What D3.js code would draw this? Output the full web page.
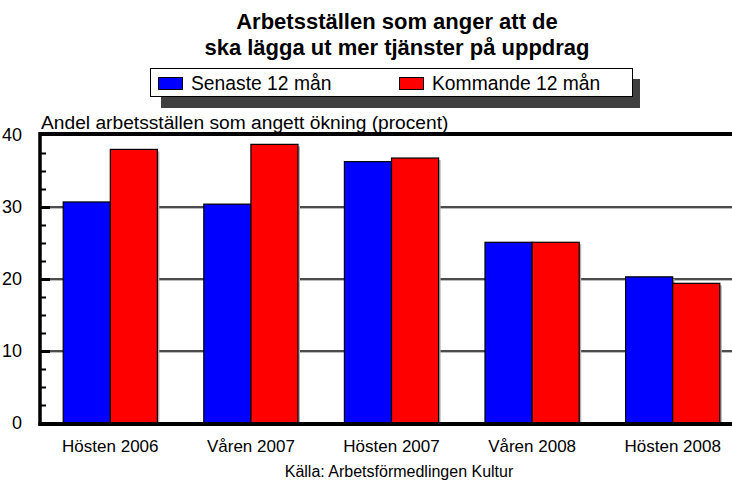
<!DOCTYPE html>
<html>
<head>
<meta charset="utf-8">
<script src="https://cdn.jsdelivr.net/npm/d3@7"></script>
<style>
  html, body { margin: 0; padding: 0; background: #fff; }
  svg { display: block; font-family: "Liberation Sans", Arial, sans-serif; }
</style>
</head>
<body>
<svg id="chart" width="732" height="480"></svg>
<script>
const categories = ["Hösten 2006", "Våren 2007", "Hösten 2007", "Våren 2008", "Hösten 2008"];
const seriesNames = ["Senaste 12 mån", "Kommande 12 mån"];
const senaste = [30.7, 30.4, 36.3, 25.1, 20.3];
const kommande = [38.0, 38.7, 36.8, 25.1, 19.4];
const majorTicks = [0, 10, 20, 30, 40];
const minorTicks = [2.5, 5, 7.5, 12.5, 15, 17.5, 22.5, 25, 27.5, 32.5, 35, 37.5];
const titleLines = ["Arbetsställen som anger att de", "ska lägga ut mer tjänster på uppdrag"];
const yTitle = "Andel arbetsställen som angett ökning (procent)";
const source = "Källa: Arbetsförmedlingen Kultur";
const colors = ["#0000ff", "#ff0000"];

(function () {
const svg = d3.select("#chart");
const W = 732;
const pLeft = 40, pTop = 135, pBottom = 423, pRight = 743;

const y = d3.scaleLinear().domain([0, 40]).range([pBottom, pTop]);
const x = d3.scaleBand().domain(categories).range([pLeft, pRight]).paddingInner(0.33).paddingOuter(0.165);
const xs = d3.scaleBand().domain(seriesNames).range([0, x.bandwidth()]);

const data = categories.map((c, i) => ({ cat: c, vals: [
  { s: seriesNames[0], v: senaste[i], c: colors[0] },
  { s: seriesNames[1], v: kommande[i], c: colors[1] }
]}));

// Title
svg.append("g").selectAll("text").data(titleLines).join("text")
  .attr("x", 397).attr("y", (d, i) => 28.5 + i * 26)
  .attr("text-anchor", "middle")
  .attr("font-weight", "bold").attr("font-size", 22)
  .attr("fill", "#000").text(d => d);

// Legend
const lg = svg.append("g");
lg.append("rect").attr("x", 161).attr("y", 79).attr("width", 479).attr("height", 29).attr("fill", "#404040");
lg.append("rect").attr("x", 150.5).attr("y", 68.5).attr("width", 482).attr("height", 28).attr("fill", "#fff").attr("stroke", "#000").attr("stroke-width", 1);
const legendX = [158, 399];
seriesNames.forEach((s, i) => {
  lg.append("rect").attr("x", legendX[i] + 0.5).attr("y", 77.5).attr("width", 24).attr("height", 12)
    .attr("fill", colors[i]).attr("stroke", "#000").attr("stroke-width", 1);
  lg.append("text").attr("x", legendX[i] + 33).attr("y", 90).attr("font-size", 19.3).attr("fill", "#000").text(s);
});

// Y title
svg.append("text").attr("x", 41).attr("y", 129).attr("font-size", 19.2).attr("fill", "#000").text(yTitle);

// Gridlines with subtle shadow
const grid = svg.append("g");
grid.selectAll("line.sh").data([10, 20, 30]).join("line")
  .attr("x1", pLeft).attr("x2", W).attr("y1", d => y(d) + 1.5).attr("y2", d => y(d) + 1.5)
  .attr("stroke", "#bbb").attr("stroke-width", 1);
grid.selectAll("line.g").data([10, 20, 30]).join("line")
  .attr("x1", pLeft).attr("x2", W).attr("y1", d => y(d)).attr("y2", d => y(d))
  .attr("stroke", "#111").attr("stroke-width", 1.6);

// Bars
const groups = svg.append("g").selectAll("g").data(data).join("g")
  .attr("transform", d => `translate(${x(d.cat)},0)`);
groups.selectAll("rect.shadow").data(d => d.vals).join("rect")
  .attr("x", d => xs(d.s) + 2).attr("y", d => y(d.v) + 2)
  .attr("width", xs.bandwidth()).attr("height", d => y(0) - y(d.v))
  .attr("fill", "#b0b0b0");
groups.selectAll("rect.bar").data(d => d.vals).join("rect")
  .attr("x", d => xs(d.s)).attr("y", d => y(d.v))
  .attr("width", xs.bandwidth()).attr("height", d => y(0) - y(d.v))
  .attr("fill", d => d.c).attr("stroke", "#000").attr("stroke-width", 1.2);

// Axes frame
svg.append("line").attr("x1", pLeft).attr("x2", W).attr("y1", pTop - 1).attr("y2", pTop - 1).attr("stroke", "#000").attr("stroke-width", 4);
svg.append("line").attr("x1", pLeft - 1.5).attr("x2", W).attr("y1", pBottom + 1).attr("y2", pBottom + 1).attr("stroke", "#000").attr("stroke-width", 4);
svg.append("line").attr("x1", pLeft).attr("x2", pLeft).attr("y1", pTop - 3).attr("y2", pBottom + 3).attr("stroke", "#000").attr("stroke-width", 3.5);

// Ticks (inward)
const yAxisMajor = d3.axisLeft(y).tickValues(majorTicks).tickSize(-10).tickPadding(18).tickFormat(d3.format("d"));
const gy = svg.append("g").attr("transform", `translate(${pLeft},0)`).call(yAxisMajor);
gy.select(".domain").remove();
gy.selectAll(".tick line").attr("stroke", "#000").attr("stroke-width", 3);
gy.selectAll(".tick text").attr("font-size", 18).attr("fill", "#000").attr("font-family", "Liberation Sans, Arial, sans-serif");
gy.selectAll(".tick").filter(d => d === 0 || d === 40).select("line").remove();

const yAxisMinor = d3.axisLeft(y).tickValues(minorTicks).tickSize(-6).tickFormat("");
const gym = svg.append("g").attr("transform", `translate(${pLeft},0)`).call(yAxisMinor);
gym.select(".domain").remove();
gym.selectAll(".tick line").attr("stroke", "#000").attr("stroke-width", 2);

// X axis labels
const xAxis = d3.axisBottom(x).tickSize(0).tickPadding(17);
const gx = svg.append("g").attr("transform", `translate(0,${pBottom})`).call(xAxis);
gx.select(".domain").remove();
gx.selectAll(".tick text").attr("font-size", 17).attr("fill", "#000").attr("font-family", "Liberation Sans, Arial, sans-serif");

// Source
svg.append("text").attr("x", 399).attr("y", 477).attr("text-anchor", "middle").attr("font-size", 16).attr("fill", "#000").text(source);
})();
</script>
</body>
</html>
